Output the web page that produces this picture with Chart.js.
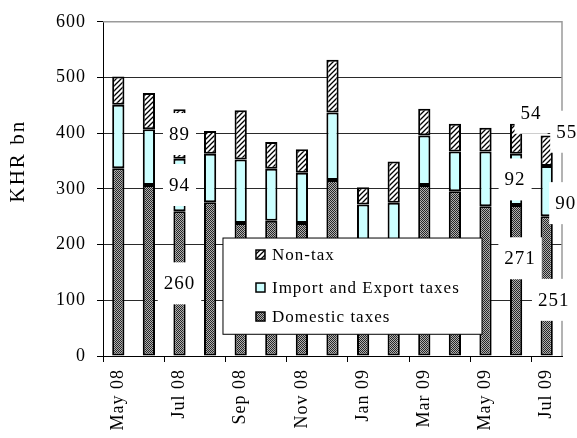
<!DOCTYPE html>
<html>
<head>
<meta charset="utf-8">
<script src="https://cdn.jsdelivr.net/npm/chart.js@4.4.1/dist/chart.umd.min.js"></script>
<style>
  html, body { margin: 0; padding: 0; background: #fff; }
  #wrap { width: 577px; height: 438px; }
</style>
</head>
<body>
<div id="wrap"><canvas id="myChart"></canvas></div>
<script>
// monthly revenue, KHR bn
const months = ['May 08', 'Jun 08', 'Jul 08', 'Aug 08', 'Sep 08', 'Oct 08', 'Nov 08', 'Dec 08',
    'Jan 09', 'Feb 09', 'Mar 09', 'Apr 09', 'May 09', 'Jun 09', 'Jul 09'];
const domestic = [337, 307, 260, 276, 239, 243, 239, 316, 200, 200, 307, 296, 269, 271, 251];
const importExport = [114, 100, 94, 87, 114, 93, 90, 121, 72, 75, 89, 71, 98, 92, 90];
const nonTax = [51, 65, 89, 41, 88, 48, 42, 95, 31, 74, 48, 50, 43, 54, 55];
const seriesNames = ['Domestic taxes', 'Import and Export taxes', 'Non-tax'];
const labelledMonths = ['Jul 08', 'Jun 09', 'Jul 09'];
const yMin = 0, yMax = 600, yStep = 100;

const FONT = "'Liberation Serif', 'Times New Roman', serif";
const canvas = document.getElementById('myChart');
const ctx = canvas.getContext('2d');

function dotPattern() {
    const c = document.createElement('canvas');
    c.width = 2; c.height = 2;
    const g = c.getContext('2d');
    g.fillStyle = '#b0b0b0';
    g.fillRect(0, 0, 2, 2);
    g.fillStyle = '#262626';
    g.fillRect(0, 0, 1, 1);
    g.fillRect(1, 1, 1, 1);
    return ctx.createPattern(c, 'repeat');
}

function hatchPattern() {
    const c = document.createElement('canvas');
    c.width = 5; c.height = 5;
    const g = c.getContext('2d');
    g.fillStyle = '#fff';
    g.fillRect(0, 0, 5, 5);
    g.strokeStyle = '#000';
    g.lineWidth = 1.3;
    g.beginPath();
    g.moveTo(-1, 6); g.lineTo(6, -1);
    g.moveTo(-1, 1); g.lineTo(1, -1);
    g.moveTo(4, 6); g.lineTo(6, 4);
    g.stroke();
    return ctx.createPattern(c, 'repeat');
}

const fills = [dotPattern(), '#ccffff', hatchPattern()];

const spacing = {
    id: 'spacing',
    beforeLayout(chart) { chart.ctx.letterSpacing = '1px'; },
    beforeDraw(chart) { chart.ctx.letterSpacing = '1px'; }
};

const frame = {
    id: 'frame',
    beforeDatasetsDraw(chart) {
        const a = chart.chartArea, c = chart.ctx;
        c.save();
        c.strokeStyle = '#9a9a9a';
        c.lineWidth = 1.5;
        c.beginPath();
        c.moveTo(a.left, a.top);
        c.lineTo(a.right, a.top);
        c.lineTo(a.right, a.bottom);
        c.stroke();
        // y axis title
        c.fillStyle = '#000';
        c.font = '21px ' + FONT;
        c.letterSpacing = '2px';
        c.textAlign = 'center';
        c.textBaseline = 'middle';
        c.translate(18, a.top + (a.bottom - a.top) * 0.42);
        c.rotate(-Math.PI / 2);
        c.fillText('KHR bn', 1, 0);
        c.restore();
        c.letterSpacing = '1px';
    }
};

const boxLegend = {
    id: 'boxLegend',
    afterDatasetsDraw(chart) {
        const a = chart.chartArea, c = chart.ctx;
        const w = a.right - a.left, h = a.bottom - a.top;
        const x0 = a.left + w * 0.2614, x1 = a.left + w * 0.8257;
        const y0 = a.top + h * 0.647, y1 = a.top + h * 0.935;
        c.save();
        c.fillStyle = '#fff';
        c.fillRect(x0, y0, x1 - x0, y1 - y0);
        c.strokeStyle = '#000';
        c.lineWidth = 1;
        c.strokeRect(x0, y0, x1 - x0, y1 - y0);
        c.font = '17px ' + FONT;
        c.textBaseline = 'middle';
        c.textAlign = 'left';
        const rows = [17, 50, 79];
        const ds = chart.data.datasets.slice().reverse();
        ds.forEach(function (d, i) {
            const y = y0 + rows[i];
            c.fillStyle = d.backgroundColor;
            c.fillRect(x0 + 33, y - 5, 9, 9);
            c.lineWidth = 1.5;
            c.strokeRect(x0 + 33, y - 5, 9, 9);
            c.fillStyle = '#000';
            c.fillText(d.label, x0 + 49, y + 1);
        });
        c.restore();
    }
};

// moved labels: [dataset][month] -> pixel nudge
const nudges = {
    'Jun 09': [[4, -22], [-1, 0], [15, -26]],
    'Jul 09': [[7, 14], [19, 12], [20, -19]]
};

const valueLabels = {
    id: 'valueLabels',
    afterDraw(chart) {
        const c = chart.ctx;
        c.save();
        c.font = '19px ' + FONT;
        c.textAlign = 'center';
        c.textBaseline = 'middle';
        chart.data.datasets.forEach(function (d, di) {
            const meta = chart.getDatasetMeta(di);
            labelledMonths.forEach(function (m) {
                const i = months.indexOf(m);
                const bar = meta.data[i];
                const n = nudges[m] ? nudges[m][di] : [0, 0];
                const x = bar.x + n[0];
                const y = (bar.y + bar.base) / 2 + n[1];
                const txt = String(d.data[i]);
                const tw = c.measureText(txt).width;
                c.fillStyle = '#fff';
                c.fillRect(x - tw / 2 - 6, y - 21, tw + 12, 42);
                c.fillStyle = '#000';
                c.fillText(txt, x, y + 1);
            });
        });
        c.restore();
    }
};

const config = {
    type: 'bar',
    data: {
        labels: months,
        datasets: [
            { label: seriesNames[0], data: domestic, backgroundColor: fills[0] },
            { label: seriesNames[1], data: importExport, backgroundColor: fills[1] },
            { label: seriesNames[2], data: nonTax, backgroundColor: fills[2] }
        ].map(function (d) {
            d.borderColor = '#000';
            d.borderWidth = 2;
            d.borderSkipped = false;
            d.categoryPercentage = 1;
            d.barPercentage = 0.4;
            return d;
        })
    },
    options: {
        responsive: true,
        maintainAspectRatio: false,
        animation: false,
        layout: { padding: { top: 8, right: 15, left: 0, bottom: 0 } },
        plugins: {
            legend: { display: false },
            tooltip: { enabled: false }
        },
        scales: {
            x: {
                stacked: true,
                afterFit: function (s) { s.height = 82; },
                border: { color: '#000', width: 1 },
                grid: {
                    offset: true,
                    drawOnChartArea: false,
                    tickLength: 6,
                    tickColor: function (c) { return c.index % 2 === 0 ? '#000' : 'rgba(0,0,0,0)'; }
                },
                ticks: {
                    autoSkip: false,
                    minRotation: 90,
                    maxRotation: 90,
                    padding: 7,
                    color: '#000',
                    font: { family: FONT, size: 18 },
                    callback: function (v, i) { return i % 2 === 0 ? months[i] : ''; }
                }
            },
            y: {
                stacked: true,
                min: yMin,
                max: yMax,
                afterFit: function (s) { s.width = 103; },
                border: { color: '#000', width: 1 },
                grid: {
                    color: function (c) { return c.tick.value === yMax ? '#9a9a9a' : '#2a2a2a'; },
                    tickColor: '#000',
                    tickLength: 6
                },
                ticks: {
                    stepSize: yStep,
                    padding: 11,
                    color: '#000',
                    font: { family: FONT, size: 18 }
                }
            }
        }
    },
    plugins: [spacing, frame, boxLegend, valueLabels]
};

const myChart = new Chart(canvas, config);
</script>
</body>
</html>
